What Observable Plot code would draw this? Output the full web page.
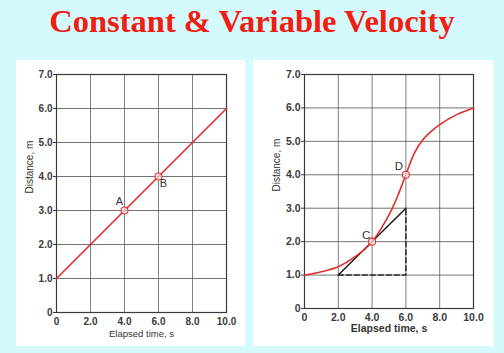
<!DOCTYPE html>
<html>
<head>
<meta charset="utf-8">
<script src="https://cdn.jsdelivr.net/npm/d3@7"></script>
<script src="https://cdn.jsdelivr.net/npm/@observablehq/plot@0.6"></script>
<style>
  html, body { margin: 0; padding: 0; }
  body { width: 504px; height: 353px; background: #d5fafd; position: relative; overflow: hidden; }
  #title { position: absolute; left: 0; top: 2px; width: 504px; text-align: center;
           font-family: "Liberation Serif", "Times New Roman", serif; font-weight: bold;
           font-size: 32.5px; color: #f21d12; line-height: 38px; }
  #left { position: absolute; left: 16px; top: 60px; }
  #right { position: absolute; left: 253px; top: 60px; }
  svg { display: block; }
</style>
</head>
<body>
<div id="title">Constant &amp; Variable Velocity</div>
<div id="left"></div>
<div id="right"></div>
<script>
// ---- data ----
const xTicks = [0, 2, 4, 6, 8, 10];
const yTicks = [0, 1, 2, 3, 4, 5, 6, 7];
const xTickLabels = ["0", "2.0", "4.0", "6.0", "8.0", "10.0"];
const yTickLabels = ["0", "1.0", "2.0", "3.0", "4.0", "5.0", "6.0", "7.0"];

// constant velocity
const leftT = [0, 10];
const leftD = [1, 6];
const leftPointNames = ["A", "B"];
const leftPointT = [4, 6];
const leftPointD = [3, 4];

// variable velocity
const rightT = [0, 1, 2, 3, 4, 5, 5.5, 6, 6.5, 7, 7.5, 8, 9, 10];
const rightD = [1.0, 1.1, 1.25, 1.55, 2.0, 2.8, 3.35, 4.0, 4.65, 5.05, 5.3, 5.5, 5.8, 6.0];
const rightPointNames = ["C", "D"];
const rightPointT = [4, 6];
const rightPointD = [2, 4];
const tangentT = [2, 6];
const tangentD = [1, 3];
const legT = [2, 6, 6];
const legD = [1, 1, 3];

const xLabel = "Elapsed time, s";
const yLabel = "Distance, m";

// ---- helpers ----
const zip = (ts, ds) => ts.map((t, i) => ({t, d: ds[i]}));
const fmtX = v => xTickLabels[xTicks.indexOf(v)];
const fmtY = v => yTickLabels[yTicks.indexOf(v)];
const RED = "#e0302c";

function chart(opts) {
  const {line, points, names, offsets, extra, ml, mr, mb, fs, xlabDy, ylabDx, xlabSize, xlabWeight} = opts;
  const pts = points.map((p, i) => ({...p, name: names[i], dx: offsets[i][0], dy: offsets[i][1]}));
  return Plot.plot({
    width: opts.width, height: 286,
    marginLeft: ml, marginRight: mr, marginTop: 14, marginBottom: mb,
    style: {background: "white", fontFamily: "'Liberation Sans', Arial, sans-serif", fontSize: fs + "px", color: "#3a3a3a"},
    x: {domain: [0, 10]},
    y: {domain: [0, 7]},
    marks: [
      Plot.gridX([2, 4, 6, 8], {stroke: "#6a6a6a", strokeOpacity: 0.85, strokeWidth: 1}),
      Plot.gridY([1, 2, 3, 4, 5, 6], {stroke: "#5a5a5a", strokeOpacity: 0.85, strokeWidth: 1}),
      Plot.frame({stroke: "#3a3a3a", strokeWidth: 1.2}),
      Plot.axisX(xTicks, {tickFormat: fmtX, tickSize: 0, tickPadding: 5, label: null, fontSize: fs, fontWeight: "bold", fill: "#3a3a3a"}),
      Plot.axisY(yTicks, {tickFormat: fmtY, tickSize: 3, tickPadding: 1, label: null, fontSize: fs, fontWeight: "bold", fill: "#3a3a3a", stroke: "#3a3a3a"}),
      ...extra,
      Plot.line(line, {x: "t", y: "d", stroke: RED, strokeWidth: 1.6, curve: "catmull-rom"}),
      Plot.dot(pts, {x: "t", y: "d", r: 3.5, fill: "white", fillOpacity: 0.6, stroke: RED, strokeWidth: 1.1}),
      ...pts.map(p => Plot.text([p], {x: "t", y: "d", text: "name", dx: p.dx, dy: p.dy, fontSize: fs + 1, fill: "#333"})),
      Plot.text([xLabel], {frameAnchor: "bottom", dy: xlabDy, text: d => d, fontSize: xlabSize, fontWeight: xlabWeight, fill: "#333"}),
      Plot.text([yLabel], {frameAnchor: "left", dx: ylabDx, rotate: -90, text: d => d, fontSize: 10, fill: "#333"})
    ]
  });
}

document.getElementById("left").appendChild(chart({
  width: 229, ml: 40, mr: 19, mb: 34, fs: 10,
  line: zip(leftT, leftD),
  points: zip(leftPointT, leftPointD), names: leftPointNames,
  offsets: [[-5, -9], [5, 7]],
  extra: [],
  xlabDy: 24, ylabDx: -27, xlabSize: 9.5, xlabWeight: "normal"
}));

document.getElementById("right").appendChild(chart({
  width: 240, ml: 51, mr: 20, mb: 38, fs: 10.5,
  line: zip(rightT, rightD),
  points: zip(rightPointT, rightPointD), names: rightPointNames,
  offsets: [[-6, -6], [-7, -8]],
  extra: [
    Plot.line(zip(legT, legD), {x: "t", y: "d", stroke: "#2a2a2a", strokeWidth: 1.5, strokeDasharray: "5,3"}),
    Plot.line(zip(tangentT, tangentD), {x: "t", y: "d", stroke: "#1a1a1a", strokeWidth: 1.5})
  ],
  xlabDy: 23, ylabDx: -28, xlabSize: 10.5, xlabWeight: "bold"
}));
</script>
</body>
</html>
